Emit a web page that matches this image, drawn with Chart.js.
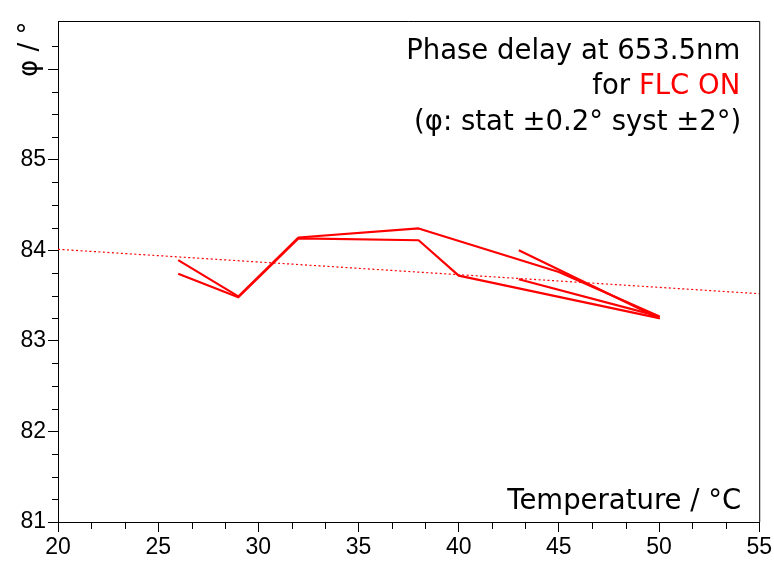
<!DOCTYPE html>
<html>
<head>
<meta charset="utf-8">
<script src="https://cdn.jsdelivr.net/npm/chart.js@4"></script>
<style>html,body{margin:0;padding:0;background:#fff}</style>
</head>
<body>
<canvas id="c" width="774" height="562"></canvas>
<script>
// Phase delay of the FLC cell (ON state) measured against temperature, two passes
const runATemps = [26, 29, 32, 38, 45, 50, 43];
const runAPhase = [83.89, 83.49, 84.14, 84.24, 83.76, 83.27, 83.68];
const runBTemps = [26, 29, 32, 38, 40, 50, 43];
const runBPhase = [83.74, 83.48, 84.13, 84.11, 83.72, 83.25, 84.00];
// Linear fit through the measurements, evaluated at the axis limits
const fitTemps = [20, 55];
const fitPhase = [84.01, 83.52];

const xTicks = [20, 25, 30, 35, 40, 45, 50, 55];
const xTickLabels = ['20', '25', '30', '35', '40', '45', '50', '55'];
const yTicks = [81, 82, 83, 84, 85, 86];
const yTickLabels = ['81', '82', '83', '84', '85', ''];

const noteLine1 = 'Phase delay at 653.5nm';
const noteLine2a = 'for ';
const noteLine2b = 'FLC ON';
const noteLine3 = '(φ: stat ±0.2° syst ±2°)';
const xAxisTitle = 'Temperature / °C';
const yAxisTitle = 'φ / °';

const toPoints = (xs, ys) => xs.map((t, i) => ({ x: t, y: ys[i] }));

// Frame, minor ticks and the text annotations
const decor = {
  id: 'decor',
  afterDraw(chart) {
    const { ctx, chartArea: a, scales: { x, y } } = chart;
    ctx.save();
    ctx.strokeStyle = '#000';
    ctx.lineWidth = 1;
    ctx.beginPath();
    ctx.moveTo(a.left, a.top + 0.5);
    ctx.lineTo(a.right + 0.5, a.top + 0.5);
    ctx.lineTo(a.right + 0.5, a.bottom);
    for (let i = 0; i < xTicks.length - 1; i++) {
      for (let k = 1; k < 3; k++) {
        const v = xTicks[i] + k * (xTicks[i + 1] - xTicks[i]) / 3;
        const px = Math.round(x.getPixelForValue(v)) + 0.5;
        ctx.moveTo(px, a.bottom);
        ctx.lineTo(px, a.bottom + 7);
      }
    }
    for (let i = 0; i < yTicks.length; i++) {
      for (let k = 1; k < 4; k++) {
        const v = yTicks[i] + k * 0.25;
        if (v > y.max - 0.1) continue;
        const py = Math.round(y.getPixelForValue(v)) + 0.5;
        ctx.moveTo(a.left - 6, py);
        ctx.lineTo(a.left, py);
      }
    }
    ctx.stroke();

    ctx.font = '27.5px "DejaVu Sans"';
    ctx.textAlign = 'right';
    ctx.textBaseline = 'alphabetic';
    ctx.fillStyle = '#000';
    const rx = a.right - 19;
    ctx.fillText(noteLine1, rx, a.top + 38);
    const w = ctx.measureText(noteLine2b).width;
    ctx.fillStyle = '#ff0000';
    ctx.fillText(noteLine2b, rx, a.top + 73);
    ctx.fillStyle = '#000';
    ctx.fillText(noteLine2a, rx - w, a.top + 73);
    ctx.fillText(noteLine3, rx + 1, a.top + 109);
    ctx.fillText(xAxisTitle, rx + 1, a.bottom - 13);

    ctx.translate(37, 77);
    ctx.rotate(-Math.PI / 2);
    ctx.textAlign = 'left';
    ctx.font = '26px "DejaVu Sans"';
    ctx.fillText(yAxisTitle, 0, 0);
    ctx.restore();
  }
};

const tickFont = { family: 'Liberation Sans', size: 23 };

new Chart(document.getElementById('c'), {
  type: 'scatter',
  data: {
    datasets: [
      { data: toPoints(runATemps, runAPhase), showLine: true, borderColor: '#ff0000', borderWidth: 2.2, borderJoinStyle: 'round', pointRadius: 0, tension: 0, fill: false },
      { data: toPoints(runBTemps, runBPhase), showLine: true, borderColor: '#ff0000', borderWidth: 2.2, borderJoinStyle: 'round', pointRadius: 0, tension: 0, fill: false },
      { data: toPoints(fitTemps, fitPhase), showLine: true, borderColor: '#ff0000', borderWidth: 1.2, borderDash: [2, 2.5], pointRadius: 0, fill: false }
    ]
  },
  options: {
    responsive: false,
    animation: false,
    devicePixelRatio: 1,
    layout: { padding: { left: 0, top: 21, right: 14, bottom: 0 } },
    plugins: { legend: { display: false }, tooltip: { enabled: false } },
    scales: {
      x: {
        type: 'linear', min: 20, max: 55,
        afterBuildTicks: s => { s.ticks = xTicks.map(v => ({ value: v })); },
        afterFit: s => { s.height = 40; },
        ticks: { callback: (v, i) => xTickLabels[i], font: tickFont, color: '#000', padding: 2, maxRotation: 0, autoSkip: false },
        grid: { drawOnChartArea: false, tickLength: 10, color: '#000' },
        border: { color: '#000', width: 1 }
      },
      y: {
        type: 'linear', min: 81, max: 86.53,
        afterBuildTicks: s => { s.ticks = yTicks.map(v => ({ value: v })); },
        afterFit: s => { s.width = 58; },
        ticks: { callback: (v, i) => yTickLabels[i], font: tickFont, color: '#000', padding: 2, autoSkip: false },
        grid: { drawOnChartArea: false, tickLength: 10, color: '#000' },
        border: { color: '#000', width: 1 }
      }
    }
  },
  plugins: [decor]
});
</script>
</body>
</html>
